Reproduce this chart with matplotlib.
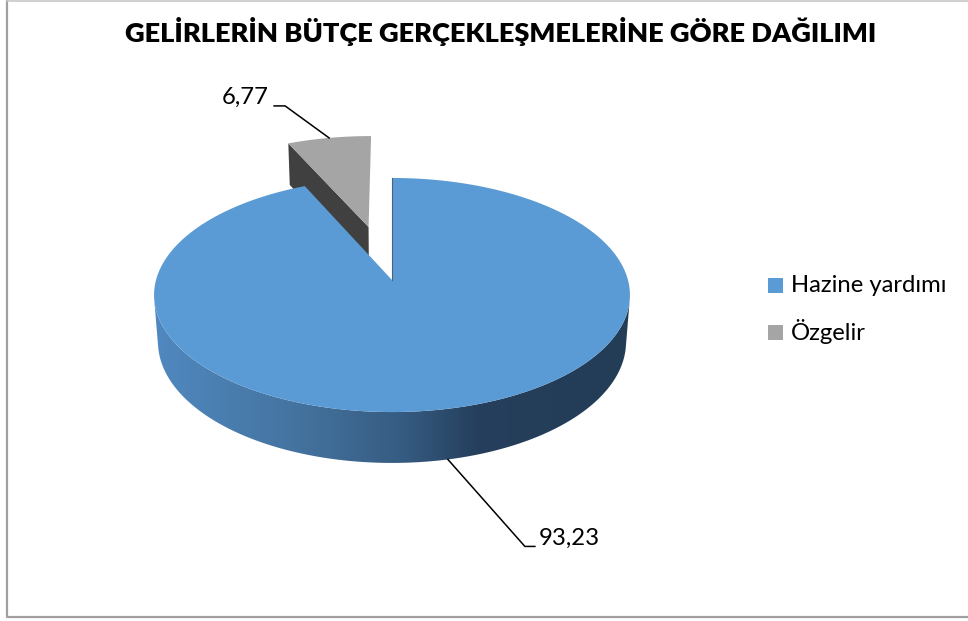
import numpy as np
import matplotlib
matplotlib.use("Agg")
import matplotlib.pyplot as plt
from matplotlib.patches import Polygon, Rectangle
from matplotlib.colors import LinearSegmentedColormap

# ---------------- data ----------------
title = "GELİRLERİN BÜTÇE GERÇEKLEŞMELERİNE GÖRE DAĞILIMI"
categories = ["Hazine yardımı", "Özgelir"]
values = [93.23, 6.77]
value_labels = ["93,23", "6,77"]
colors = ["#5b9bd5", "#a5a5a5"]
side_colors = ["#4f86bd", "#404040"]

# ---------------- layout / projection ----------------
W, H = 968, 621
fig = plt.figure(figsize=(W / 100, H / 100), dpi=100)
ax = fig.add_axes([0, 0, 1, 1])
ax.set_xlim(0, W)
ax.set_ylim(H, 0)
ax.axis("off")

FONT = ["Lato", "DejaVu Sans"]

cx, cy = 392.0, 280.0
elev = np.deg2rad(29.2)
cs, sn = np.cos(elev), np.sin(elev)
Dist, Foc = 6.81, 1607.0
height = 0.23
explode = [0.0, 0.5]


def proj(X, Y, Z):
    X, Y, Z = np.asarray(X, float), np.asarray(Y, float), np.asarray(Z, float)
    d = Y * cs - Z * sn + Dist
    u = Foc * X / d
    v = Foc * (Y * sn + Z * cs) / d
    return cx + u, cy - v


def pts(xs, ys):
    return np.column_stack([xs, ys])


total = sum(values)
fracs = [v / total for v in values]
starts = np.cumsum([0] + fracs[:-1]) * 2 * np.pi
ends = starts + np.array(fracs) * 2 * np.pi
mids = (starts + ends) / 2

# explosion offsets
offs = [(e * np.sin(m), e * np.cos(m)) for e, m in zip(explode, mids)]

# ---------- slice 2 (Özgelir, exploded) ----------
i = 1
ox, oy = offs[i]
a0, a1 = starts[i], ends[i]
# cut face at start angle (visible, dark)
xs, ys = proj([ox, ox + np.sin(a0), ox + np.sin(a0), ox],
              [oy, oy + np.cos(a0), oy + np.cos(a0), oy],
              [0, 0, -height, -height])
ax.add_patch(Polygon(pts(xs, ys), closed=True, facecolor=side_colors[i],
                     edgecolor="none", zorder=1))
# top face
t = np.linspace(a0, a1, 60)
xs, ys = proj(np.r_[ox, ox + np.sin(t)], np.r_[oy, oy + np.cos(t)], np.zeros(len(t) + 1))
ax.add_patch(Polygon(pts(xs, ys), closed=True, facecolor=colors[i],
                     edgecolor="none", zorder=2))
anchor_small = proj(ox + np.sin(mids[i]), oy + np.cos(mids[i]), 0)

# ---------- slice 1 (Hazine yardımı) ----------
i = 0
a0, a1 = starts[i], ends[i]
# silhouette angles of the cylinder wall
ts = np.arccos(-1.0 / (Dist * cs))
w0, w1 = max(a0, ts), min(a1, 2 * np.pi - ts)
t = np.linspace(w0, w1, 200)
xt, yt = proj(np.sin(t), np.cos(t), np.zeros_like(t))
xb, yb = proj(np.sin(t), np.cos(t), -height * np.ones_like(t))
wall = Polygon(np.vstack([pts(xt, yt), pts(xb, yb)[::-1]]), closed=True,
               facecolor="none", edgecolor="none", zorder=3)
ax.add_patch(wall)
cmap = LinearSegmentedColormap.from_list(
    "wall", [(0.0, "#5089c0"), (0.30, "#44739f"), (0.52, "#365c82"),
             (0.68, "#253f5c"), (1.0, "#233d57")])
grad = np.linspace(0, 1, 512)[None, :]
x_lo, x_hi = xt.min(), xt.max()
im = ax.imshow(grad, cmap=cmap, aspect="auto", extent=[x_lo, x_hi, yb.max() + 2, yt.min() - 2],
               zorder=3, interpolation="bilinear")
im.set_clip_path(wall)
ax.set_xlim(0, W)
ax.set_ylim(H, 0)

# top face
t = np.linspace(a0, a1, 400)
xs, ys = proj(np.r_[0, np.sin(t)], np.r_[0, np.cos(t)], np.zeros(len(t) + 1))
ax.add_patch(Polygon(pts(xs, ys), closed=True, facecolor=colors[i],
                     edgecolor="none", zorder=4))
# thin edge of the cut at the start angle
ex, ey = proj([0, np.sin(a0)], [0, np.cos(a0)], [0, 0])
ax.plot(ex, ey, color="#4a6480", lw=0.8, zorder=4.5)
anchor_big = proj(np.sin(mids[i]), np.cos(mids[i]), -height)

# ---------- data labels with leader lines ----------
lab_font = dict(fontsize=17.2, family=FONT, color="#000000")
# big slice label (lower right)
bx, by = float(anchor_big[0]), float(anchor_big[1])
ax.plot([bx, bx + 77, bx + 87], [by, by + 87, by + 87], color="black", lw=1.1, zorder=6)
ax.text(bx + 91, by + 87 + 2, value_labels[0], ha="left", va="bottom", **lab_font)
# small slice label (upper left)
sx, sy = float(anchor_small[0]), float(anchor_small[1])
ax.plot([sx, sx - 44, sx - 55], [sy, sy - 32, sy - 32], color="black", lw=1.1, zorder=6)
ax.text(sx - 60, sy - 32 + 2, value_labels[1], ha="right", va="bottom", **lab_font)

# ---------- title ----------
ax.text(501, 32, title, ha="center", va="center", fontsize=19.6, fontweight="heavy",
        family=FONT, color="#000000")

# ---------- legend ----------
leg_y = [285, 332]
for k, (name, col) in enumerate(zip(categories, colors)):
    ax.add_patch(Rectangle((768, leg_y[k] - 7.5), 15, 15, facecolor=col, edgecolor="none"))
    ax.text(791, leg_y[k], name, ha="left", va="center", fontsize=17.2, family=FONT,
            color="#000000")

# ---------- chart border ----------
ax.plot([6.5, 6.5, W + 5], [-5, 617, 617], color="#a0a0a0", lw=1.6, zorder=10,
        clip_on=False)
ax.plot([6.5, W + 5], [0.8, 0.8], color="#c8c8c8", lw=1.2, zorder=10)

fig.savefig("out.png", dpi=100)
